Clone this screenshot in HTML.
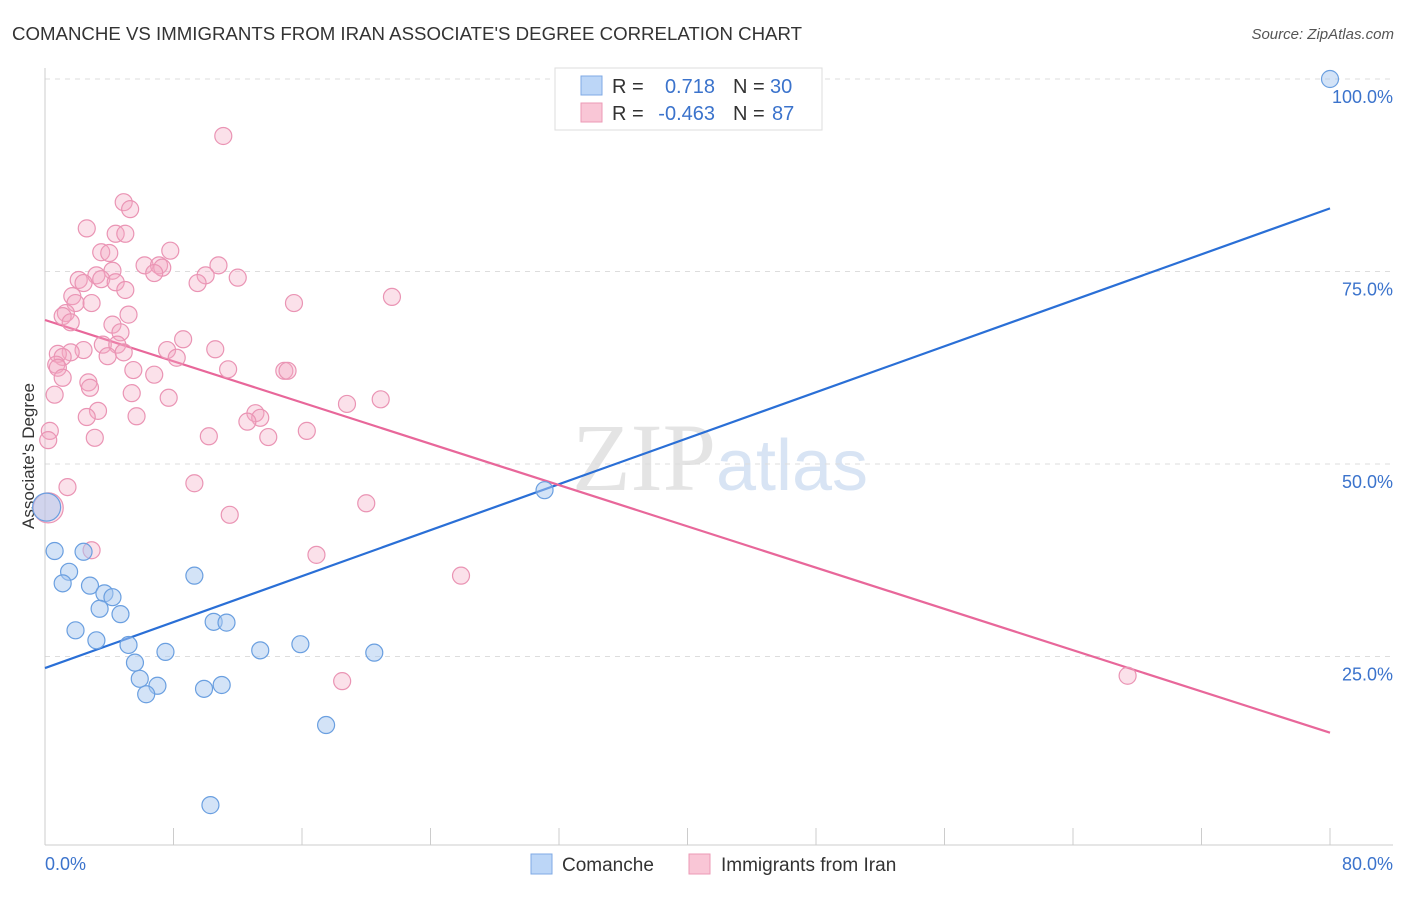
<!DOCTYPE html>
<html><head><meta charset="utf-8"><style>
body{margin:0;background:#fff;font-family:"Liberation Sans",sans-serif;}
</style></head><body>
<svg id="chart" width="1406" height="892" xmlns="http://www.w3.org/2000/svg" font-family="Liberation Sans, sans-serif">
<text x="12" y="40" font-size="18" fill="#333" textLength="790" lengthAdjust="spacingAndGlyphs">COMANCHE VS IMMIGRANTS FROM IRAN ASSOCIATE'S DEGREE CORRELATION CHART</text>
<text x="1394" y="39" font-size="15" fill="#555" font-style="italic" text-anchor="end">Source: ZipAtlas.com</text>
<text x="720" y="490" font-size="96" text-anchor="middle" fill="#e4e4e4" font-family="Liberation Serif, serif">ZIP<tspan fill="#d8e4f4" font-family="Liberation Sans, sans-serif" font-size="72">atlas</tspan></text>
<text transform="translate(34,456) rotate(-90)" font-size="17" fill="#333" text-anchor="middle">Associate's Degree</text>
<g id="grid"></g><g id="axes"></g><g id="lines"></g><g id="pts"></g>
<g>
<rect x="555" y="68" width="267" height="62" fill="#fff" stroke="#ddd"/>
<rect x="581" y="76" width="21" height="19" fill="#bcd6f7" stroke="#7fa9e4"/>
<rect x="581" y="103" width="21" height="19" fill="#f9c6d6" stroke="#ec9ab6"/>
<text x="612" y="93" font-size="20" fill="#333">R =</text>
<text x="715" y="93" font-size="20" fill="#3b73cc" text-anchor="end">0.718</text>
<text x="733" y="93" font-size="20" fill="#333">N =</text><text x="770" y="93" font-size="20" fill="#3b73cc">30</text>
<text x="612" y="120" font-size="20" fill="#333">R =</text>
<text x="715" y="120" font-size="20" fill="#3b73cc" text-anchor="end">-0.463</text>
<text x="733" y="120" font-size="20" fill="#333">N =</text><text x="772" y="120" font-size="20" fill="#3b73cc">87</text>
</g>
<g>
<rect x="531" y="854" width="21" height="20" fill="#bcd6f7" stroke="#7fa9e4"/>
<text x="562" y="871" font-size="19" fill="#333">Comanche</text>
<rect x="689" y="854" width="21" height="20" fill="#f9c6d6" stroke="#ec9ab6"/>
<text x="721" y="871" font-size="19" fill="#333">Immigrants from Iran</text>
</g>
</svg>
<script>
const blueX=[80,31.1,0.6,2.4,1.5,1.1,2.8,3.7,4.2,9.3,3.4,4.7,1.9,3.2,5.2,10.5,11.3,7.5,13.4,15.9,20.5,5.6,5.9,7.0,6.3,9.9,11.0,17.5,10.3,0.1];
const blueY=[100,46.6,38.7,38.6,36.0,34.5,34.2,33.2,32.7,35.5,31.2,30.5,28.4,27.1,26.5,29.5,29.4,25.6,25.8,26.6,25.5,24.2,22.1,21.2,20.1,20.8,21.3,16.1,5.7,44.4];
const pinkX=[11.1,4.9,5.3,2.6,4.4,5.0,3.5,4.0,7.8,6.2,7.1,7.3,10.8,4.2,6.8,3.2,3.5,10.0,12.0,2.1,2.4,4.4,9.5,5.0,1.7,21.6,1.9,2.9,15.5,1.3,1.1,5.2,1.6,4.2,4.7,8.6,3.6,4.5,2.4,7.6,10.6,1.6,4.9,0.8,1.1,3.9,8.2,0.7,0.8,5.5,11.4,14.9,15.1,1.1,6.8,2.7,2.8,5.4,0.6,7.7,20.9,18.8,3.3,2.6,5.7,13.1,13.4,12.6,16.3,0.3,13.9,10.2,3.1,0.2,9.3,1.4,20.0,11.5,2.9,16.9,25.9,18.5,67.4,0.2];
const pinkY=[92.6,84.0,83.1,80.6,79.9,79.9,77.5,77.4,77.7,75.8,75.8,75.5,75.8,75.1,74.8,74.5,74.0,74.5,74.2,73.9,73.5,73.6,73.5,72.6,71.8,71.7,70.9,70.9,70.9,69.6,69.2,69.4,68.4,68.1,67.1,66.2,65.5,65.5,64.8,64.8,64.9,64.5,64.5,64.3,63.9,64.0,63.8,62.9,62.5,62.2,62.3,62.1,62.1,61.2,61.6,60.6,59.9,59.2,59.0,58.6,58.4,57.8,56.9,56.1,56.2,56.6,56.0,55.5,54.3,54.3,53.5,53.6,53.4,53.1,47.5,47.0,44.9,43.4,38.8,38.2,35.5,21.8,22.5,44.3];
const blueLine=[23.5,83.2];
const pinkLine=[68.7,15.1];
const yTicks=[100,75,50,25];
const xTicks=[0,10,20,30,40,50,60,70,80];
const NS="http://www.w3.org/2000/svg";
const sx=v=>45+v*1285/80, sy=v=>849-v*7.7;
function mk(t,a,p){const e=document.createElementNS(NS,t);for(const k in a)e.setAttribute(k,a[k]);document.getElementById(p).appendChild(e);return e;}
yTicks.forEach(v=>{
 const g=mk('line',{x1:45,x2:1393,y1:sy(v),y2:sy(v),stroke:'#ddd','stroke-dasharray':'5,5'},'grid');
 
 
 const t=mk('text',{x:1393,y:sy(v)+24,'font-size':18,fill:'#3b73cc','text-anchor':'end'},'grid');
 t.textContent=v.toFixed(1)+'%';
 
 
});
const ax=mk('line',{x1:45,x2:1393,y1:845,y2:845,stroke:'#ccc'},'axes');


const ay=mk('line',{x1:45,x2:45,y1:68,y2:845,stroke:'#ccc'},'axes');


for(let i=0;i<=10;i++){const x=45+i*128.5;const tk=mk('line',{x1:x,x2:x,y1:828,y2:845,stroke:'#ccc'},'axes');
 
 }
[[0,'0.0%','start',45],[80,'80.0%','end',1393]].forEach(d=>{const t=mk('text',{x:d[3],y:870,'font-size':18,fill:'#3b73cc','text-anchor':d[2]},'axes');t.textContent=d[1];
 
 });
const bl=mk('line',{x1:sx(0),y1:sy(blueLine[0]),x2:sx(80),y2:sy(blueLine[1]),stroke:'#2a6fd6','stroke-width':2.2},'lines');


const pl=mk('line',{x1:sx(0),y1:sy(pinkLine[0]),x2:sx(80),y2:sy(pinkLine[1]),stroke:'#e8679a','stroke-width':2.2},'lines');


pinkX.forEach((v,i)=>{const big=i===pinkX.length-1;const c=mk('circle',{cx:sx(v),cy:sy(pinkY[i]),r:big?15:8.5,fill:'rgba(244,168,196,0.35)',stroke:'#ea94b4','stroke-width':1.2},'pts');
 
 });
blueX.forEach((v,i)=>{const big=i===blueX.length-1;const c=mk('circle',{cx:sx(v),cy:sy(blueY[i]),r:big?14:8.5,fill:'rgba(168,200,240,0.5)',stroke:'#6a9fe0','stroke-width':1.2},'pts');
 
 });
</script>
</body></html>
